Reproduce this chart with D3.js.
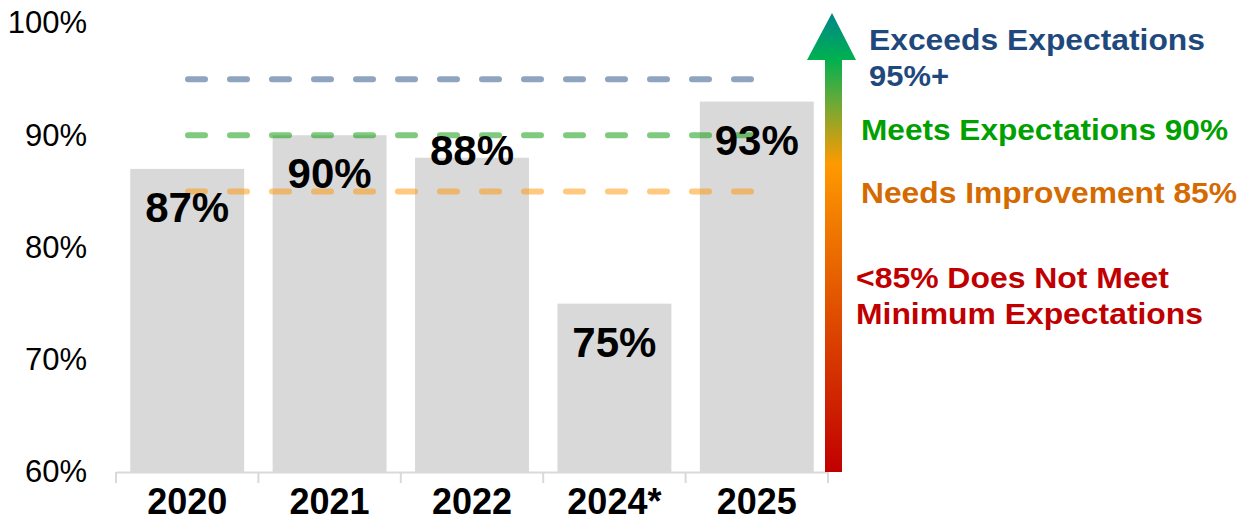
<!DOCTYPE html>
<html>
<head>
<meta charset="utf-8">
<script src="https://cdn.jsdelivr.net/npm/d3@7"></script>
<style>
  html, body { margin: 0; padding: 0; background: #fff; }
  svg { display: block; font-family: Arial, "Liberation Sans", sans-serif; }
</style>
</head>
<body>
<svg id="chart" width="1250" height="522"></svg>
<script>
// Annual score by year
const years = ["2020", "2021", "2022", "2024*", "2025"];
const scores = [87, 90, 88, 75, 93];
// Labels that sit above the bar top instead of inside it
const labelAbove = [false, false, true, false, false];

// Y-axis ticks
const yTicks = [60, 70, 80, 90, 100];

// Expectation thresholds drawn as dashed reference lines
const thresholdValues = [95, 90, 85];
const thresholdColors = ["rgba(31,73,125,0.5)", "rgba(0,150,0,0.5)", "rgba(255,150,0,0.5)"];

// Rating legend beside the arrow
const legendLines = [
  ["Exceeds Expectations", "95%+"],
  ["Meets Expectations 90%"],
  ["Needs Improvement 85%"],
  ["<85% Does Not Meet", "Minimum Expectations"]
];
const legendColors = ["#1F497D", "#00A000", "#D46A00", "#C00000"];

const svg = d3.select("#chart");

const x = d3.scaleBand().domain(years).range([116, 828]).paddingInner(0.2).paddingOuter(0.1);
const y = d3.scaleLinear().domain([60, 100]).range([472, 23]);

// Bars
svg.append("g").selectAll("rect")
  .data(scores)
  .join("rect")
  .attr("x", (d, i) => x(years[i]))
  .attr("y", d => y(d))
  .attr("width", x.bandwidth())
  .attr("height", d => y(60) - y(d))
  .attr("fill", "#D9D9D9");

// Threshold dashed lines
svg.append("g").selectAll("line")
  .data(thresholdValues)
  .join("line")
  .attr("x1", 188)
  .attr("x2", 754)
  .attr("y1", d => y(d))
  .attr("y2", d => y(d))
  .attr("stroke", (d, i) => thresholdColors[i])
  .attr("stroke-width", 6)
  .attr("stroke-linecap", "round")
  .attr("stroke-dasharray", "17,25");

// Value labels
const fmt = d => d3.format(".0f")(d) + "%";
svg.append("g").selectAll("text")
  .data(scores)
  .join("text")
  .attr("x", (d, i) => x(years[i]) + x.bandwidth() / 2)
  .attr("y", (d, i) => labelAbove[i] ? y(d) + 7 : y(d) + 53)
  .attr("text-anchor", "middle")
  .attr("font-size", 42)
  .attr("font-weight", "bold")
  .attr("fill", "#000")
  .text(fmt);

// X axis
const xAxis = svg.append("g")
  .attr("transform", `translate(0,${y(60)})`)
  .call(d3.axisBottom(x).tickSize(0).tickSizeOuter(0));
xAxis.select(".domain").attr("stroke", "#D9D9D9").attr("stroke-width", 2);
xAxis.selectAll(".tick text")
  .attr("font-size", 36)
  .attr("font-weight", "bold")
  .attr("fill", "#000")
  .attr("dy", null)
  .attr("y", 42)
  .attr("font-family", "Arial, 'Liberation Sans', sans-serif");
// Category separators
const sepX = years.map(d => x(d) - x.step() * x.paddingInner() / 2).concat([828]);
sepX[0] = 116;
svg.append("g").selectAll("line")
  .data(sepX)
  .join("line")
  .attr("x1", d => d).attr("x2", d => d)
  .attr("y1", y(60)).attr("y2", y(60) + 11)
  .attr("stroke", "#D9D9D9").attr("stroke-width", 2);

// Y axis (labels only)
const yAxis = svg.append("g")
  .attr("transform", "translate(87,0)")
  .call(d3.axisLeft(y).tickValues(yTicks).tickSize(0).tickFormat(d => d + "%"));
yAxis.select(".domain").remove();
yAxis.selectAll(".tick text")
  .attr("font-size", 31)
  .attr("fill", "#000")
  .attr("x", 0)
  .attr("font-family", "Arial, 'Liberation Sans', sans-serif");

// Gradient arrow
const defs = svg.append("defs");
const grad = defs.append("linearGradient")
  .attr("id", "arrowGrad")
  .attr("gradientUnits", "userSpaceOnUse")
  .attr("x1", 0).attr("x2", 0).attr("y1", 472).attr("y2", 13);
[
  [0, "#C00000"],
  [0.53, "#F07800"],
  [0.67, "#FF9900"],
  [0.74, "#B4A21C"],
  [0.82, "#5AAB3C"],
  [0.90, "#00B050"],
  [1, "#00868B"]
].forEach(([o, c]) => grad.append("stop").attr("offset", o).attr("stop-color", c));

const arrowPath = d3.path();
arrowPath.moveTo(825, 472);
arrowPath.lineTo(825, 60);
arrowPath.lineTo(807, 60);
arrowPath.lineTo(832, 13);
arrowPath.lineTo(856, 60);
arrowPath.lineTo(842, 60);
arrowPath.lineTo(842, 472);
arrowPath.closePath();
svg.append("path").attr("d", arrowPath.toString()).attr("fill", "url(#arrowGrad)");

// Legend text (wide, stretched lettering)
const legendPos = [[869, 50], [861, 140], [861, 203], [856, 288]];
const legendWidths = [[336, 80], [367], [376], [313, 347]];
legendLines.forEach((lines, i) => {
  lines.forEach((s, j) => {
    svg.append("text")
      .attr("x", legendPos[i][0])
      .attr("y", legendPos[i][1] + j * 36)
      .attr("font-size", 29)
      .attr("font-weight", "bold")
      .attr("fill", legendColors[i])
      .attr("textLength", legendWidths[i][j])
      .attr("lengthAdjust", "spacingAndGlyphs")
      .text(s);
  });
});
</script>
</body>
</html>
